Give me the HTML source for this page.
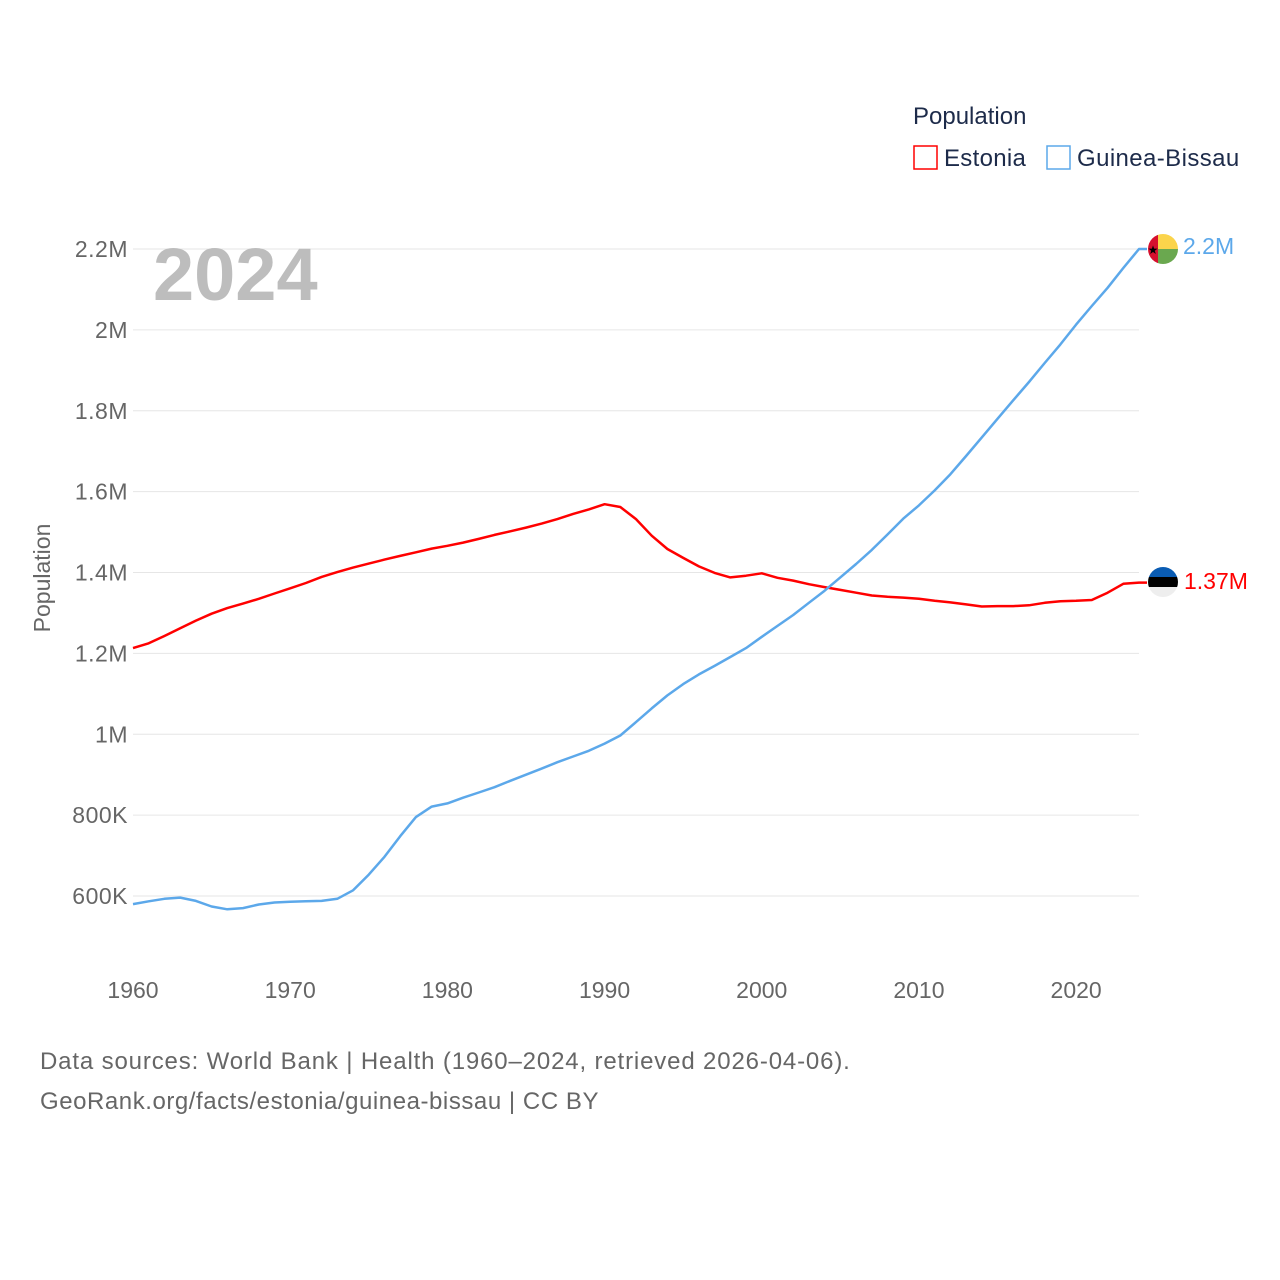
<!DOCTYPE html>
<html><head><meta charset="utf-8"><style>
html,body{margin:0;padding:0;background:#fff;}
svg{display:block;font-family:"Liberation Sans",sans-serif;}
</style></head><body>
<svg id="chart" width="1280" height="1280" viewBox="0 0 1280 1280" xmlns="http://www.w3.org/2000/svg">
<rect width="1280" height="1280" fill="#fff"/>
<g id="grid"></g>
<g id="yticks"></g>
<g id="xticks"></g>
<text x="153" y="300" font-size="74" font-weight="bold" fill="#bdbdbd">2024</text>
<text transform="translate(50,578) rotate(-90)" text-anchor="middle" font-size="23" fill="#666">Population</text>
<g id="lines"></g>
<g>
<text x="913" y="124" font-size="24" fill="#1d2b4a">Population</text>
<g>
<rect x="914" y="146" width="23" height="23" fill="none" stroke="#ff0000" stroke-width="1.5"/>
<text x="944" y="166" font-size="24" letter-spacing="0.3" fill="#1d2b4a">Estonia</text></g>
<g>
<rect x="1047" y="146" width="23" height="23" fill="none" stroke="#5ca8ea" stroke-width="1.5"/>
<text x="1077" y="166" font-size="24" letter-spacing="0.4" fill="#1d2b4a">Guinea-Bissau</text></g>
</g>
<g>
<clipPath id="c1"><circle cx="1163" cy="249" r="15"/></clipPath>
<g clip-path="url(#c1)">
<rect x="1148" y="234" width="10" height="30" fill="#d6102e"/>
<rect x="1158" y="234" width="20" height="15" fill="#fbd44b"/>
<rect x="1158" y="249" width="20" height="15" fill="#6aa84f"/>
</g>
<text x="1153" y="254" font-size="12" text-anchor="middle" fill="#000">★</text>
</g>
<g>
<clipPath id="c2"><circle cx="1163" cy="582" r="15"/></clipPath>
<g clip-path="url(#c2)">
<rect x="1148" y="567" width="30" height="10" fill="#0a5cb3"/>
<rect x="1148" y="577" width="30" height="10" fill="#000"/>
<rect x="1148" y="587" width="30" height="10" fill="#eeeeee"/>
</g></g>
<text x="1183" y="254" font-size="23" fill="#5ca8ea">2.2M</text>
<text x="1184" y="589" font-size="23" fill="#ff0000">1.37M</text>
<text x="40" y="1069" font-size="24" letter-spacing="0.85" fill="#666">Data sources: World Bank | Health (1960–2024, retrieved 2026-04-06).</text>
<text x="40" y="1109" font-size="24" letter-spacing="0.55" fill="#666">GeoRank.org/facts/estonia/guinea-bissau | CC BY</text>
</svg>
<script>
const years = [];
for (let y = 1960; y <= 2024; y++) years.push(y);
const estonia = [1.213,1.225,1.243,1.262,1.281,1.298,1.312,1.323,1.335,1.348,1.361,1.374,1.389,1.401,1.412,1.422,1.432,1.441,1.450,1.459,1.466,1.474,1.483,1.493,1.502,1.511,1.521,1.532,1.545,1.556,1.569,1.562,1.532,1.491,1.458,1.436,1.415,1.399,1.388,1.392,1.398,1.387,1.380,1.371,1.364,1.357,1.350,1.343,1.340,1.338,1.335,1.330,1.326,1.321,1.316,1.317,1.317,1.319,1.325,1.329,1.330,1.332,1.350,1.372,1.375];
const guinea = [0.580,0.587,0.593,0.596,0.588,0.574,0.567,0.570,0.579,0.584,0.586,0.587,0.588,0.593,0.614,0.653,0.697,0.748,0.795,0.821,0.829,0.843,0.856,0.869,0.885,0.900,0.915,0.931,0.945,0.959,0.977,0.997,1.030,1.064,1.096,1.124,1.148,1.169,1.191,1.213,1.241,1.268,1.295,1.325,1.355,1.388,1.421,1.456,1.494,1.533,1.566,1.603,1.643,1.688,1.734,1.780,1.826,1.871,1.918,1.964,2.013,2.059,2.104,2.153,2.200];
const yTickVals = [0.6,0.8,1.0,1.2,1.4,1.6,1.8,2.0,2.2];
const yTickLabels = ["600K","800K","1M","1.2M","1.4M","1.6M","1.8M","2M","2.2M"];
const xTickVals = [1960,1970,1980,1990,2000,2010,2020];

const X = yr => 133 + (yr - 1960) * (1139 - 133) / 64;
const Y = v => 896 - (v - 0.6) * (896 - 249) / 1.6;
const NS = "http://www.w3.org/2000/svg";
function mk(tag, attrs, parent) {
  const e = document.createElementNS(NS, tag);
  for (const k in attrs) e.setAttribute(k, attrs[k]);
  parent.appendChild(e);
  return e;
}
const grid = document.getElementById('grid');
const yt = document.getElementById('yticks');
const xt = document.getElementById('xticks');
const lines = document.getElementById('lines');
yTickVals.forEach((v, i) => {
  const l = mk('line', {x1:133, x2:1139, y1:Y(v), y2:Y(v), stroke:'#e6e6e6', 'stroke-width':1}, grid);
  
  
  const t = mk('text', {x:128, y:Y(v)+8, 'text-anchor':'end', 'font-size':23, 'letter-spacing':0.5, fill:'#666'}, yt);
  t.textContent = yTickLabels[i];
  
  
});
xTickVals.forEach(v => {
  const t = mk('text', {x:X(v), y:998, 'text-anchor':'middle', 'font-size':23, fill:'#666'}, xt);
  t.textContent = v;
  
  
});
function drawLine(vals, color, name) {
  let d = vals.map((v, i) => (i ? 'L' : 'M') + X(years[i]).toFixed(1) + ' ' + Y(v).toFixed(1)).join(' ');
  d += ' L' + (X(2024) + 8) + ' ' + Y(vals[vals.length-1]).toFixed(1);
  const p = mk('path', {d:d, fill:'none', stroke:color, 'stroke-width':2.5, 'stroke-linejoin':'round'}, lines);
  
  
}
drawLine(estonia, '#ff0000', 'line-estonia');
drawLine(guinea, '#5ca8ea', 'line-guinea-bissau');
</script>
</body></html>
